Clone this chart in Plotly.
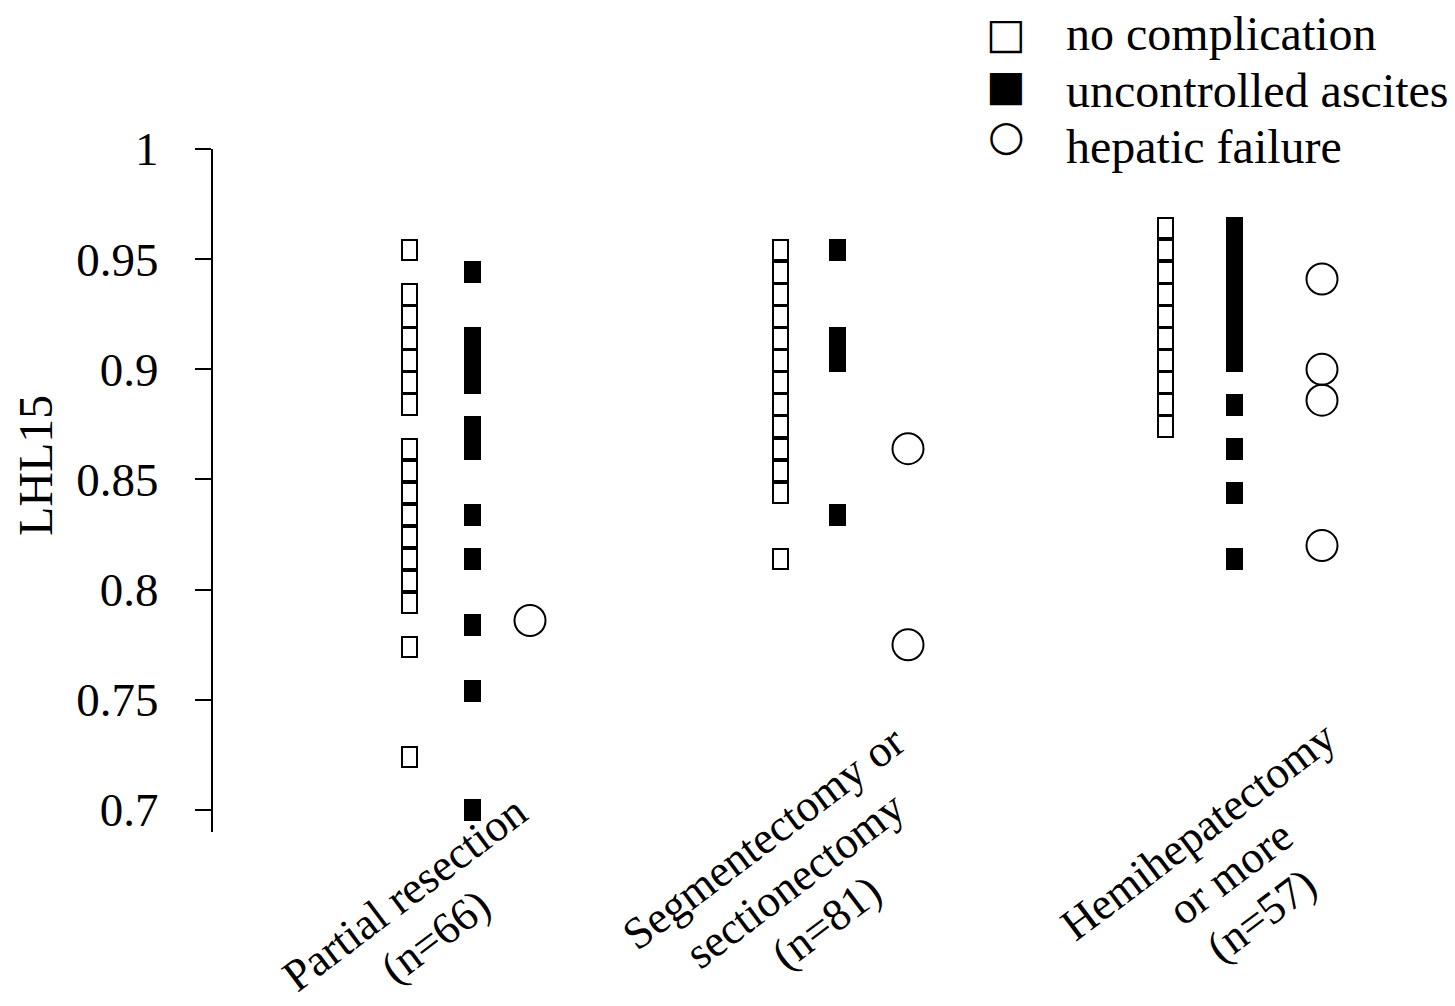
import math
import plotly.graph_objects as go

# ---------------- data ----------------
categories = [
    "Partial resection<br>(n=66)",
    "Segmentectomy or<br>sectionectomy<br>(n=81)",
    "Hemihepatectomy<br>or more<br>(n=57)",
]
series_names = ["no complication", "uncontrolled ascites", "hepatic failure"]

no_complication = [
    [0.954, 0.934, 0.924, 0.914, 0.904, 0.894, 0.884, 0.864, 0.854, 0.844,
     0.834, 0.824, 0.814, 0.804, 0.794, 0.774, 0.724],
    [0.954, 0.944, 0.934, 0.924, 0.914, 0.904, 0.894, 0.884, 0.874, 0.864,
     0.854, 0.844, 0.814],
    [0.964, 0.954, 0.944, 0.934, 0.924, 0.914, 0.904, 0.894, 0.884, 0.874],
]
uncontrolled_ascites = [
    [0.944, 0.914, 0.904, 0.894, 0.874, 0.864, 0.834, 0.814, 0.784, 0.754, 0.700],
    [0.954, 0.914, 0.904, 0.834],
    [0.964, 0.954, 0.944, 0.934, 0.924, 0.914, 0.904, 0.884, 0.864, 0.844, 0.814],
]
hepatic_failure = [
    [0.786],
    [0.864, 0.775],
    [0.941, 0.900, 0.886, 0.820],
]

y_tickvals = [0.7, 0.75, 0.8, 0.85, 0.9, 0.95, 1.0]
y_ticktext = ["0.7", "0.75", "0.8", "0.85", "0.9", "0.95", "1"]
y_title = "LHL15"

# ---------------- layout constants ----------------
W, H = 1455, 1006
L, R, T, B = 213, 15, 149, 174
X_RANGE = [L, W - R]            # x axis in pixel-like units
Y_RANGE = [0.69, 1.0]
X_POS = [(409.5, 472.5, 530), (780, 837.5, 908), (1165, 1234.5, 1322)]
LABEL_POS = [(420, 915), (795, 880), (1230, 873)]
LABEL_ANGLE = 37
LINE_STEP = 53
FONT = "Liberation Serif, Times New Roman, serif"
FS = 45
BOX_H = 0.01          # height of a rectangular marker in data units
OPEN_H = 0.0092


def px_to_paper_x(px):
    return (px - L) / (W - L - R)


def py_to_paper(py):
    return (H - B - py) / (H - T - B)


fig = go.Figure()

for g, cat in enumerate(categories):
    xo, xf, xc = X_POS[g]
    vals = no_complication[g]
    fig.add_trace(go.Bar(
        x=[xo] * len(vals), y=[OPEN_H] * len(vals),
        base=[v - OPEN_H / 2 for v in vals], width=15,
        marker=dict(color="white", line=dict(color="black", width=2)),
        name=series_names[0], showlegend=False,
    ))
    vals = uncontrolled_ascites[g]
    fig.add_trace(go.Bar(
        x=[xf] * len(vals), y=[BOX_H] * len(vals),
        base=[v - BOX_H / 2 for v in vals], width=17,
        marker=dict(color="black", line=dict(color="black", width=0)),
        name=series_names[1], showlegend=False,
    ))
    vals = hepatic_failure[g]
    fig.add_trace(go.Scatter(
        x=[xc] * len(vals), y=vals, mode="markers",
        marker=dict(symbol="circle-open", size=31, color="black",
                    line=dict(color="black", width=2)),
        name=series_names[2], showlegend=False,
    ))

annotations = []
# category labels: one annotation per line, stacked perpendicular to the text
a = math.radians(LABEL_ANGLE)
perp = (math.sin(a), math.cos(a))
for cat, (cx, cy) in zip(categories, LABEL_POS):
    lines = cat.split("<br>")
    n = len(lines)
    for k, line in enumerate(lines):
        off = (k - (n - 1) / 2) * LINE_STEP
        px, py = cx + off * perp[0], cy + off * perp[1]
        annotations.append(dict(
            x=px_to_paper_x(px), xref="paper", y=py_to_paper(py), yref="paper",
            text=line, showarrow=False, textangle=-LABEL_ANGLE,
            xanchor="center", yanchor="middle",
            font=dict(family=FONT, size=FS, color="black"),
        ))
# y title
annotations.append(dict(
    x=px_to_paper_x(35), xref="paper", y=py_to_paper(466), yref="paper",
    text=y_title, showarrow=False, textangle=-90,
    xanchor="center", yanchor="middle",
    font=dict(family=FONT, size=48, color="black"),
))
# legend (text glyph symbols)
leg_symbols = ["\u25a1", "\u25a0", "\u25cb"]
leg_sym_rows = [33, 85, 135]
leg_txt_rows = [33, 90, 147]
for sym, name, sy, ty in zip(leg_symbols, series_names, leg_sym_rows, leg_txt_rows):
    annotations.append(dict(
        x=px_to_paper_x(1006), xref="paper", y=py_to_paper(sy), yref="paper",
        text=sym, showarrow=False, xanchor="center", yanchor="middle",
        font=dict(family="DejaVu Sans", size=42, color="black"),
    ))
    annotations.append(dict(
        x=px_to_paper_x(1064), xref="paper", y=py_to_paper(ty), yref="paper",
        text=name, showarrow=False, xanchor="left", yanchor="middle",
        font=dict(family=FONT, size=48, color="black"),
    ))

fig.update_layout(
    width=W, height=H,
    margin=dict(l=L, r=R, t=T, b=B),
    paper_bgcolor="white", plot_bgcolor="white",
    barmode="overlay", bargap=0,
    showlegend=False,
    font=dict(family=FONT, size=FS, color="black"),
    xaxis=dict(range=X_RANGE, visible=False, showgrid=False, zeroline=False),
    yaxis=dict(
        range=Y_RANGE, tickvals=y_tickvals, ticktext=y_ticktext,
        showline=True, linecolor="black", linewidth=2,
        ticks="outside", ticklen=16, tickwidth=2, tickcolor="black",
        ticklabelstandoff=27,
        showgrid=False, zeroline=False,
        tickfont=dict(family=FONT, size=47, color="black"),
    ),
    annotations=annotations,
)

fig.write_html("out.html")
